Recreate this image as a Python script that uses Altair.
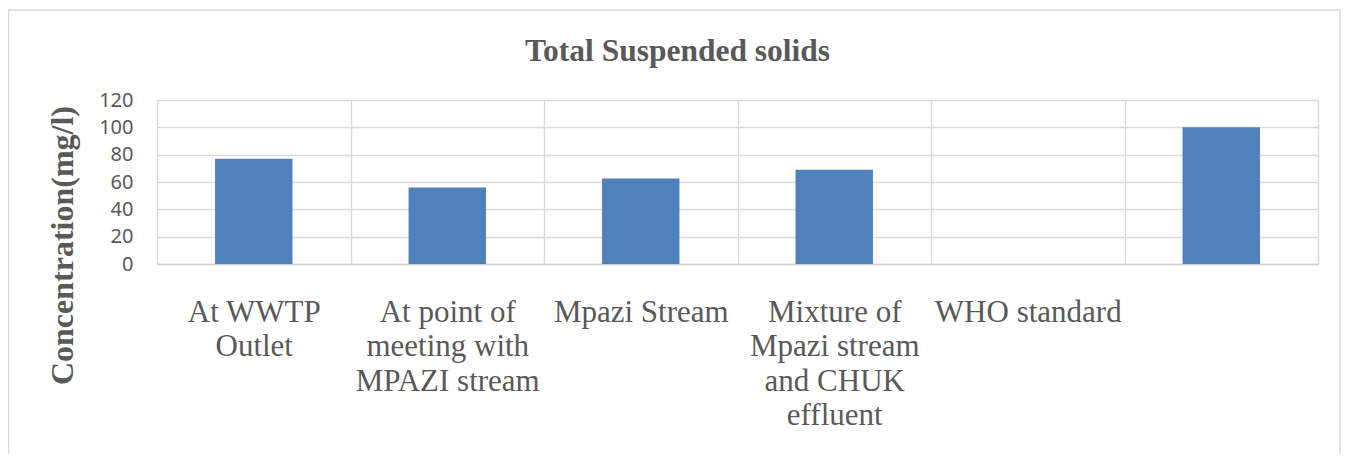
import altair as alt
import pandas as pd

categories = [
    "At WWTP|Outlet",
    "At point of|meeting with|MPAZI stream",
    "Mpazi Stream",
    "Mixture of|Mpazi stream|and CHUK|effluent",
    "WHO standard",
    " ",
]
values = [77, 56, 62.5, 69, 0, 100]
y_ticks = [0, 20, 40, 60, 80, 100, 120]

df = pd.DataFrame({"site": categories, "tss": values})

GRAY = "#595959"
GRID = "#d9d9d9"
SERIF = "Liberation Serif"

bars = alt.Chart(df).mark_bar(color="#4f81bd", width={"band": 0.4}).encode(
    x=alt.X(
        "site:N",
        sort=categories,
        scale=alt.Scale(paddingInner=0, paddingOuter=0),
        axis=alt.Axis(
            title=None,
            labelAngle=0,
            labelExpr="split(datum.label, '|')",
            labelFont=SERIF,
            labelFontSize=31,
            labelLineHeight=34.5,
            labelColor=GRAY,
            labelPadding=33,
            labelOverlap=False,
            labelLimit=0,
            labelBaseline="top",
            ticks=False,
            tickBand="extent",
            grid=True,
            gridColor=GRID,
            gridWidth=1.4,
            domainColor="#cfcfcf",
            domainWidth=1.6,
        ),
    ),
    y=alt.Y(
        "tss:Q",
        scale=alt.Scale(domain=[0, 120], nice=False),
        axis=alt.Axis(
            values=y_ticks,
            title="Concentration(mg/l)",
            titleFont=SERIF,
            titleFontSize=32,
            titleFontWeight="bold",
            titleColor=GRAY,
            titleAngle=-90,
            titleAlign="center",
            titleBaseline="alphabetic",
            titleX=-85,
            titleY=145,
            labelFont="Noto Sans",
            labelFontSize=20,
            labelColor=GRAY,
            labelPadding=24,
            ticks=False,
            domain=False,
            grid=True,
            gridColor=GRID,
            gridWidth=1.4,
        ),
    ),
)

frame = alt.Chart(pd.DataFrame({"f": [0]})).mark_rect(
    fill=None, stroke=GRID, strokeWidth=1.5, clip=False
).encode(
    x=alt.value(-148.5), x2=alt.value(1183), y=alt.value(-90), y2=alt.value(420)
)

chart = alt.layer(frame, bars).properties(
    width=1161,
    height=164,
    autosize=alt.AutoSizeParams(type="none"),
    padding={"left": 149, "top": 92, "right": 23, "bottom": 190},
    title=alt.TitleParams(
        "Total Suspended solids",
        font=SERIF,
        fontSize=31.5,
        fontWeight="bold",
        color=GRAY,
        anchor="middle",
        dx=-60,
        baseline="alphabetic",
        offset=0,
        dy=83,
    ),
).configure_view(stroke=None)

chart.save("out.html", embed_options={"renderer": "svg", "actions": False})
